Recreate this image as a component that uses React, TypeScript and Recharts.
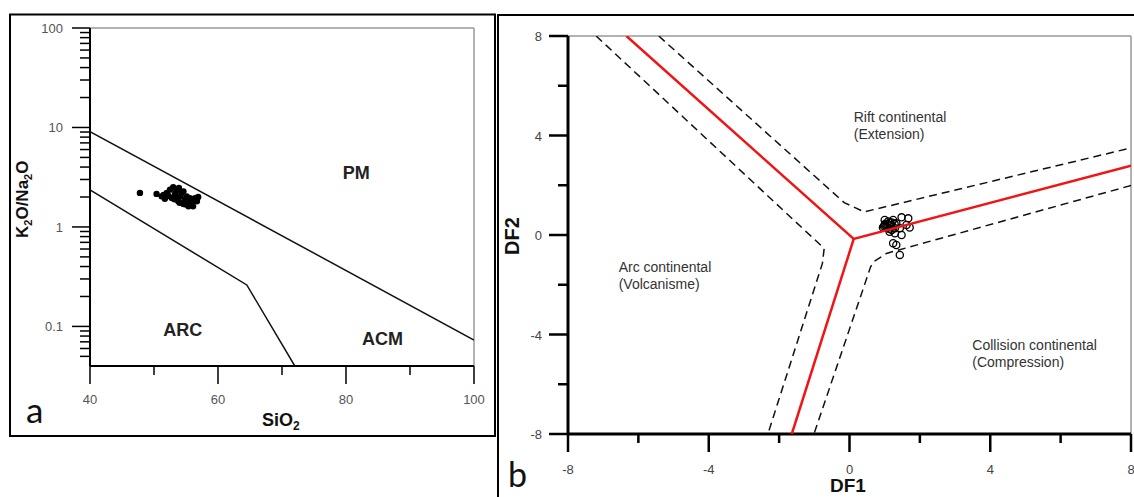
import React from "react"
import { ScatterChart, Scatter, XAxis, YAxis, ReferenceLine } from "recharts"

// panel a: SiO2 vs K2O/Na2O (log)
const SIO2 = [47.8, 50.4, 51.2, 51.7, 52.0, 52.5, 53.0, 53.3, 53.5, 53.9, 54.1, 54.3, 54.6, 54.8, 55.1, 55.4, 55.6, 55.9, 56.4, 56.7, 56.1, 55.4, 54.6, 53.8, 52.8, 53.5, 51.5, 52.3, 54.0, 55.0, 56.9, 53.2]
const K2O_NA2O = [2.2, 2.15, 2.03, 1.92, 2.2, 2.37, 2.51, 2.15, 2.32, 2.47, 2.03, 2.2, 2.28, 1.88, 2.03, 1.81, 1.95, 1.74, 1.95, 1.81, 1.61, 1.61, 1.7, 1.81, 1.95, 2.03, 2.1, 2.05, 1.75, 1.68, 2.0, 1.9]

const UPPER_X = [40, 100]
const UPPER_Y = [9.1, 0.073]
const LOWER_X = [40, 64.5, 72.0]
const LOWER_Y = [2.36, 0.261, 0.04]

const A_LABEL_X = [81.6, 54.5, 85.7]
const A_LABEL_Y = [3.45, 0.092, 0.0748]
const A_LABEL_TEXT = ["PM", "ARC", "ACM"]

const A_XTICKS = [40, 50, 60, 70, 80, 90, 100]
const A_XMAJOR = [40, 60, 80, 100]
const A_YTICKS = [0.05, 0.06, 0.07, 0.08, 0.09, 0.1, 0.2, 0.3, 0.4, 0.5, 0.6, 0.7, 0.8, 0.9, 1, 2, 3, 4, 5, 6, 7, 8, 9, 10, 20, 30, 40, 50, 60, 70, 80, 90, 100]
const A_YMAJOR = [0.1, 1, 10, 100]

// panel b: DF1 vs DF2
const DF1 = [1.0, 1.1, 1.24, 1.05, 1.19, 1.33, 1.0, 1.29, 1.48, 1.67, 1.62, 1.43, 1.48, 1.29, 1.14, 1.24, 1.33, 1.43, 1.71, 0.95, 1.12, 1.2, 1.02, 1.08, 1.15, 0.98, 1.2, 1.28]
const DF2 = [0.4, 0.54, 0.6, 0.33, 0.4, 0.47, 0.6, 0.27, 0.71, 0.67, 0.4, 0.27, 0.0, 0.07, 0.13, -0.33, -0.4, -0.8, 0.3, 0.3, 0.25, 0.5, 0.45, 0.3, 0.5, 0.35, 0.2, 0.45]

const RED_A_X = [-6.34, 0.12, 8]
const RED_A_Y = [8, -0.16, 2.79]
const RED_B_X = [0.12, -1.64]
const RED_B_Y = [-0.16, -8]

const DASH_TOP_X = [-5.42, -0.15, 0.42, 8]
const DASH_TOP_Y = [8, 1.3, 0.93, 3.5]
const DASH_LEFT_X = [-7.2, -0.72, -0.77, -2.32]
const DASH_LEFT_Y = [8, -0.54, -1.14, -8]
const DASH_RIGHT_X = [8, 1.05, 0.71, 0.6, -1.01]
const DASH_RIGHT_Y = [1.99, -0.74, -1.05, -1.28, -8]

const B_LABEL_X = [0.12, -6.56, 3.49]
const B_LABEL_Y = [4.54, -1.49, -4.62]
const B_LABEL_TEXT = [
  ["Rift continental", "(Extension)"],
  ["Arc continental", "(Volcanisme)"],
  ["Collision continental", "(Compression)"],
]

const B_TICKS = [-8, -6, -4, -2, 0, 2, 4, 6, 8]
const B_MAJOR = [-8, -4, 0, 4, 8]

const pts = (xs: number[], ys: number[]) => xs.map((x, i) => ({ x, y: ys[i] }))

const FONT = "'Liberation Sans', Arial, sans-serif"
const RED = "#f01414"

const Nothing = () => <g />

const Dot = (p: any) => <circle cx={p.cx} cy={p.cy} r={3.2} fill="#000" />
const Ring = (p: any) => (
  <circle cx={p.cx} cy={p.cy} r={3.6} fill="none" stroke="#000" strokeWidth={1.3} />
)

const BoldLabel = (p: any) => (
  <text x={p.cx} y={p.cy} textAnchor="middle" dominantBaseline="central" fontFamily={FONT} fontWeight="bold" fontSize={18} fill="#222">
    {p.payload.text}
  </text>
)

const RegionLabel = (p: any) => (
  <text x={p.cx} y={p.cy} fontFamily={FONT} fontSize={14} fill="#333">
    {p.payload.lines.map((l: string, i: number) => (
      <tspan key={i} x={p.cx} dy={i === 0 ? 0 : 17}>
        {l}
      </tspan>
    ))}
  </text>
)

const YTickA = (p: any) => {
  const v = p.payload.value
  const major = A_YMAJOR.includes(v)
  return (
    <g>
      <line x1={p.x - (major ? 18 : 10)} x2={p.x} y1={p.y} y2={p.y} stroke="#000" strokeWidth={1.5} />
      {major && (
        <text x={p.x - 27} y={p.y} dy={5} textAnchor="end" fontFamily={FONT} fontSize={13} fill="#555">
          {v}
        </text>
      )}
    </g>
  )
}

const XTickA = (p: any) => {
  const v = p.payload.value
  const major = A_XMAJOR.includes(v)
  return (
    <g>
      <line x1={p.x} x2={p.x} y1={p.y} y2={p.y + (major ? 18 : 9)} stroke="#000" strokeWidth={1.5} />
      {major && (
        <text x={p.x} y={p.y + 38} textAnchor="middle" fontFamily={FONT} fontSize={13} fill="#555">
          {v}
        </text>
      )}
    </g>
  )
}

const YTickB = (p: any) => {
  const v = p.payload.value
  const major = B_MAJOR.includes(v)
  return (
    <g>
      <line x1={p.x - (major ? 19 : 10)} x2={p.x} y1={p.y} y2={p.y} stroke="#000" strokeWidth={2.5} />
      {major && (
        <text x={p.x - 26} y={p.y} dy={5} textAnchor="end" fontFamily={FONT} fontSize={13} fill="#444">
          {v}
        </text>
      )}
    </g>
  )
}

const XTickB = (p: any) => {
  const v = p.payload.value
  const major = B_MAJOR.includes(v)
  return (
    <g>
      <line x1={p.x} x2={p.x} y1={p.y} y2={p.y + (major ? 18 : 9)} stroke="#000" strokeWidth={2.5} />
      {major && (
        <text x={p.x} y={p.y + 40} textAnchor="middle" fontFamily={FONT} fontSize={13} fill="#444">
          {v}
        </text>
      )}
    </g>
  )
}

function PanelA() {
  const samples = pts(SIO2, K2O_NA2O)
  const labels = A_LABEL_X.map((x, i) => ({ x, y: A_LABEL_Y[i], text: A_LABEL_TEXT[i] }))
  return (
    <ScatterChart width={500} height={440} margin={{ top: 28, right: 26, bottom: 0, left: 0 }}>
      <XAxis
        type="number"
        dataKey="x"
        domain={[40, 100]}
        ticks={A_XTICKS}
        interval={0}
        tickSize={0}
        tickMargin={0}
        tickLine={false}
        tick={<XTickA />}
        axisLine={{ stroke: "#000", strokeWidth: 2 }}
        height={74}
        allowDataOverflow
      />
      <YAxis
        type="number"
        dataKey="y"
        scale="log"
        domain={[0.04, 100]}
        ticks={A_YTICKS}
        interval={0}
        tickSize={0}
        tickMargin={0}
        tickLine={false}
        tick={<YTickA />}
        axisLine={{ stroke: "#000", strokeWidth: 2 }}
        width={90}
        allowDataOverflow
      />
      <ReferenceLine y={100} stroke="#999" strokeWidth={1.5} />
      <ReferenceLine x={100} stroke="#999" strokeWidth={1.5} />
      <Scatter data={pts(UPPER_X, UPPER_Y)} line={{ stroke: "#111", strokeWidth: 1.5 }} shape={Nothing} isAnimationActive={false} />
      <Scatter data={pts(LOWER_X, LOWER_Y)} line={{ stroke: "#111", strokeWidth: 1.5 }} shape={Nothing} isAnimationActive={false} />
      <Scatter data={samples} shape={Dot} isAnimationActive={false} />
      <Scatter data={labels} shape={BoldLabel} isAnimationActive={false} />
    </ScatterChart>
  )
}

function PanelB() {
  const samples = pts(DF1, DF2)
  const labels = B_LABEL_X.map((x, i) => ({ x, y: B_LABEL_Y[i], lines: B_LABEL_TEXT[i] }))
  const dash = { stroke: "#111", strokeWidth: 1.5, strokeDasharray: "8 5" }
  const red = { stroke: RED, strokeWidth: 2.5 }
  return (
    <ScatterChart width={660} height={497} margin={{ top: 36, right: 26, bottom: 0, left: 0 }}>
      <XAxis
        type="number"
        dataKey="x"
        domain={[-8, 8]}
        ticks={B_TICKS}
        interval={0}
        tickSize={0}
        tickMargin={0}
        tickLine={false}
        tick={<XTickB />}
        axisLine={{ stroke: "#000", strokeWidth: 3 }}
        height={63}
        allowDataOverflow
      />
      <YAxis
        type="number"
        dataKey="y"
        domain={[-8, 8]}
        ticks={B_TICKS}
        interval={0}
        tickSize={0}
        tickMargin={0}
        tickLine={false}
        tick={<YTickB />}
        axisLine={{ stroke: "#000", strokeWidth: 3 }}
        width={71}
        allowDataOverflow
      />
      <ReferenceLine y={8} stroke="#999" strokeWidth={1.5} />
      <ReferenceLine x={8} stroke="#999" strokeWidth={1.5} />
      <Scatter data={pts(DASH_TOP_X, DASH_TOP_Y)} line={dash} shape={Nothing} isAnimationActive={false} />
      <Scatter data={pts(DASH_LEFT_X, DASH_LEFT_Y)} line={dash} shape={Nothing} isAnimationActive={false} />
      <Scatter data={pts(DASH_RIGHT_X, DASH_RIGHT_Y)} line={dash} shape={Nothing} isAnimationActive={false} />
      <Scatter data={samples} shape={Ring} isAnimationActive={false} />
      <Scatter data={pts(RED_A_X, RED_A_Y)} line={red} shape={Nothing} isAnimationActive={false} />
      <Scatter data={pts(RED_B_X, RED_B_Y)} line={red} shape={Nothing} isAnimationActive={false} />
      <Scatter data={labels} shape={RegionLabel} isAnimationActive={false} />
    </ScatterChart>
  )
}

export default function App() {
  return (
    <div style={{ position: "fixed", left: 0, top: 0, width: 1134, height: 497, overflow: "hidden", background: "#fff" }}>
      <div style={{ position: "absolute", left: 0, top: 0 }}>
        <PanelA />
      </div>
      <div style={{ position: "absolute", left: 497, top: 0 }}>
        <PanelB />
      </div>
      <svg width={1134} height={497} style={{ position: "absolute", left: 0, top: 0, pointerEvents: "none" }}>
        <rect x={10} y={14.5} width={485} height={421.5} fill="none" stroke="#000" strokeWidth={2} />
        <path d="M 498 497 L 498 15 L 1134 15" fill="none" stroke="#000" strokeWidth={2} />
        <text transform="translate(28,238) rotate(-90)" fontFamily={FONT} fontWeight="bold" fontSize={17} fill="#111">
          K<tspan dy={4} fontSize={11}>2</tspan>
          <tspan dy={-4}>O/Na</tspan>
          <tspan dy={4} fontSize={11}>2</tspan>
          <tspan dy={-4}>O</tspan>
        </text>
        <text x={262} y={426} fontFamily={FONT} fontWeight="bold" fontSize={18} fill="#111">
          SiO<tspan dy={4} fontSize={12}>2</tspan>
        </text>
        <text transform="translate(519,255) rotate(-90)" fontFamily={FONT} fontWeight="bold" fontSize={20} fill="#111">
          DF2
        </text>
        <text x={830} y={492} fontFamily={FONT} fontWeight="bold" fontSize={19} fill="#111">
          DF1
        </text>
        <text x={26} y={423} fontFamily="Lato, 'Open Sans', sans-serif" fontSize={35} fill="#111">
          a
        </text>
        <text x={508} y={487} fontFamily="Lato, 'Open Sans', sans-serif" fontSize={34} fill="#111">
          b
        </text>
      </svg>
    </div>
  )
}
